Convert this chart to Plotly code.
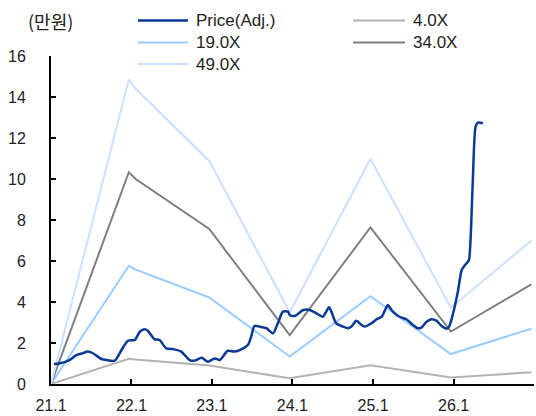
import plotly.graph_objects as go

# Adjusted share price (unit: 10,000 KRW)
price_dates = [
    "2021-01-14", "2021-02-06", "2021-03-26", "2021-04-26", "2021-05-24", "2021-06-18",
    "2021-07-10", "2021-08-18", "2021-09-10", "2021-10-17", "2021-11-17", "2021-12-16",
    "2022-01-16", "2022-02-08", "2022-03-01", "2022-03-16", "2022-04-16", "2022-05-08",
    "2022-06-08", "2022-07-15", "2022-08-15", "2022-09-22", "2022-10-15", "2022-11-15",
    "2022-12-14", "2023-01-14", "2023-02-06", "2023-03-14", "2023-04-14", "2023-05-14",
    "2023-06-13", "2023-06-28", "2023-07-13", "2023-08-05", "2023-09-05", "2023-10-05",
    "2023-10-27", "2023-11-19", "2023-12-12", "2023-12-20", "2024-01-12", "2024-02-19",
    "2024-03-19", "2024-04-19", "2024-05-18", "2024-06-15", "2024-06-26", "2024-07-18",
    "2024-08-18", "2024-09-10", "2024-09-25", "2024-10-17", "2024-11-10", "2024-11-25",
    "2024-12-25", "2025-01-17", "2025-02-09", "2025-02-28", "2025-03-09", "2025-04-01",
    "2025-05-01", "2025-06-01", "2025-07-01", "2025-07-23", "2025-08-08", "2025-09-01",
    "2025-09-23", "2025-10-15", "2025-11-08", "2025-12-01", "2025-12-12", "2025-12-30",
    "2026-01-22", "2026-02-07", "2026-02-22", "2026-03-11", "2026-03-19", "2026-03-29",
    "2026-04-11", "2026-04-21", "2026-05-14",
]
price_values = [
    0.98, 1.00, 1.17, 1.41, 1.50, 1.58,
    1.50, 1.22, 1.17, 1.14, 1.66, 2.11,
    2.15, 2.55, 2.67, 2.60, 2.18, 2.15,
    1.74, 1.69, 1.58, 1.17, 1.14, 1.28,
    1.09, 1.25, 1.17, 1.62, 1.58, 1.69,
    1.90, 2.31, 2.83, 2.80, 2.72, 2.47,
    2.96, 3.53, 3.53, 3.37, 3.32, 3.61,
    3.61, 3.45, 3.28, 3.74, 3.53, 2.96,
    2.80, 2.72, 2.80, 3.09, 2.88, 2.80,
    2.96, 3.16, 3.28, 3.69, 3.85, 3.53,
    3.28, 3.16, 2.88, 2.72, 2.75, 3.04,
    3.16, 3.09, 2.83, 2.70, 2.80, 3.45,
    4.59, 5.56, 5.80, 6.02, 7.02, 9.79,
    12.55, 12.75, 12.72,
]

# PER band lines
band_dates = ["2021-01-01", "2021-12-20", "2022-01-20", "2022-12-20", "2023-12-20",
              "2024-12-20", "2025-12-20", "2026-12-20"]
band_4x = [0, 1.23, 1.19, 0.90, 0.28, 0.91, 0.32, 0.57]
band_19x = [0, 5.77, 5.58, 4.22, 1.34, 4.28, 1.46, 2.70]
band_34x = [0, 10.33, 10.00, 7.56, 2.38, 7.64, 2.56, 4.86]
band_49x = [0, 14.85, 14.40, 10.88, 3.50, 10.98, 3.72, 6.99]

series_names = ["Price(Adj.)", "4.0X", "19.0X", "34.0X", "49.0X"]
series_colors = ["#0B3A94", "#B3B3B3", "#99CCFF", "#7F7F7F", "#CCE0FF"]

tick_dates = ["2021-01-01", "2022-01-01", "2023-01-01", "2024-01-01",
              "2025-01-01", "2026-01-01", "2027-01-01"]
tick_labels = ["21.1", "22.1", "23.1", "24.1", "25.1", "26.1", ""]
y_ticks = [0, 2, 4, 6, 8, 10, 12, 14, 16]

FONT = "Liberation Sans, Arial, sans-serif"
TEXT = "#222222"

fig = go.Figure()
for vals, name, color in [
    (band_4x, series_names[1], series_colors[1]),
    (band_19x, series_names[2], series_colors[2]),
    (band_34x, series_names[3], series_colors[3]),
    (band_49x, series_names[4], series_colors[4]),
]:
    fig.add_trace(go.Scatter(x=band_dates, y=vals, mode="lines", name=name,
                             line=dict(color=color, width=2)))

fig.add_trace(go.Scatter(x=price_dates, y=price_values, mode="lines", name=series_names[0],
                         line=dict(color=series_colors[0], width=2.5, shape="spline",
                                   smoothing=0.7)))

L, R, T, B = 51, 2, 56, 32
W, H = 536, 416
pw, ph = W - L - R, H - T - B


def px(xp):
    return (xp - L) / pw


def py(yp):
    return (H - B - yp) / ph


# Legend drawn as two columns above the plot
legend_items = [
    (0, 138, 188, 194, 20.5),
    (1, 353, 405, 411, 20.5),
    (2, 138, 188, 194, 42.5),
    (3, 353, 405, 411, 42.5),
    (4, 138, 188, 194, 64.0),
]
shapes = []
annotations = []
for idx, x0, x1, xt, yl in legend_items:
    shapes.append(dict(type="line", xref="paper", yref="paper",
                       x0=px(x0), x1=px(x1), y0=py(yl), y1=py(yl),
                       line=dict(color=series_colors[idx], width=2.5 if idx == 0 else 2)))
    annotations.append(dict(xref="paper", yref="paper", x=px(xt), y=py(yl),
                            xanchor="left", yanchor="middle", showarrow=False,
                            text=series_names[idx],
                            font=dict(family=FONT, size=17, color=TEXT)))

annotations.append(dict(xref="paper", yref="paper", x=px(50), y=py(20.5),
                        xanchor="center", yanchor="middle", showarrow=False,
                        text="(만원)",
                        font=dict(family="Noto Sans CJK KR, sans-serif", size=18, color=TEXT)))

fig.update_layout(
    width=W, height=H,
    margin=dict(l=L, r=R, t=T, b=B),
    paper_bgcolor="white", plot_bgcolor="white",
    showlegend=False,
    shapes=shapes,
    annotations=annotations,
    font=dict(family=FONT, size=16, color=TEXT),
    xaxis=dict(
        type="date",
        range=["2021-01-01", "2027-01-01"],
        tickvals=tick_dates, ticktext=tick_labels,
        showgrid=False, zeroline=False,
        showline=True, linecolor="black", linewidth=2,
        ticks="inside", ticklen=5, tickwidth=1.5, tickcolor="black",
        ticklabelstandoff=6,
        tickfont=dict(family=FONT, size=16, color=TEXT),
    ),
    yaxis=dict(
        range=[0, 16],
        tickvals=y_ticks,
        showgrid=False, zeroline=False,
        showline=True, linecolor="black", linewidth=2,
        ticks="inside", ticklen=5, tickwidth=1.5, tickcolor="black",
        ticklabelstandoff=20,
        tickfont=dict(family=FONT, size=16, color=TEXT),
    ),
)

fig.write_html("out.html")
